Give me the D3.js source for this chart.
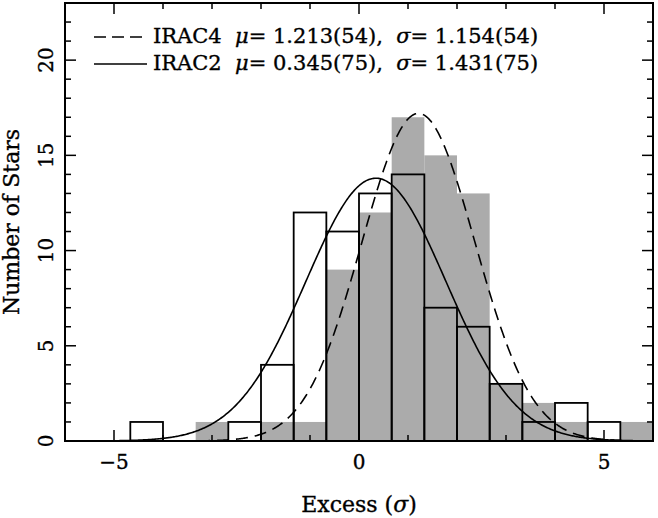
<!DOCTYPE html>
<html>
<head>
<meta charset="utf-8">
<script src="https://cdn.jsdelivr.net/npm/d3@7"></script>
<style>
  html, body { margin: 0; padding: 0; background: #fff; }
  svg { display: block; }
  text { font-family: "DejaVu Serif", serif; fill: #000; stroke: #000; stroke-width: 0.35px; }
</style>
</head>
<body>
<svg id="chart" width="658" height="518"></svg>
<script>
// ---- data ----
const binWidth = 0.6667;
const binLo = [-6, -5.333, -4.667, -4, -3.333, -2.667, -2, -1.333, -0.667, 0, 0.667, 1.333, 2, 2.667, 3.333, 4, 4.667, 5.333];
const irac2Counts = [0, 0, 1, 0, 0, 1, 4, 12, 11, 13, 14, 7, 6, 3, 1, 2, 1, 0];
const irac4Counts = [0, 0, 0, 0, 1, 0, 1, 1, 9, 12, 17, 15, 13, 3, 2, 1, 0, 1];
const irac4Fit = { mu: 1.213, sigma: 1.154, peak: 17.2 };
const irac2Fit = { mu: 0.345, sigma: 1.431, peak: 13.8 };
const xMajorTicks = [-5, 0, 5];
const yMajorTicks = [0, 5, 10, 15, 20];
const legendLabels = [
  { name: "IRAC4", mu: "1.213(54)", sigma: "1.154(54)", dash: "12,6" },
  { name: "IRAC2", mu: "0.345(75)", sigma: "1.431(75)", dash: null }
];

// ---- layout ----
const W = 658, H = 518;
const L = 65, R = 653, T = 3, B = 441;
const svg = d3.select("#chart");
const x = d3.scaleLinear().domain([-6, 6]).range([L, R]);
const y = d3.scaleLinear().domain([0, 23]).range([B, T]);

svg.append("defs").append("clipPath").attr("id", "clip")
  .append("rect").attr("x", L).attr("y", T).attr("width", R - L).attr("height", B - T);

const plot = svg.append("g").attr("clip-path", "url(#clip)");

// gray IRAC4 histogram
plot.selectAll("rect.g4").data(binLo.map((d, i) => ({ lo: d, n: irac4Counts[i] })).filter(d => d.n > 0))
  .enter().append("rect")
  .attr("x", d => x(d.lo)).attr("width", d => x(d.lo + binWidth) - x(d.lo))
  .attr("y", d => y(d.n)).attr("height", d => y(0) - y(d.n))
  .attr("fill", "#ababab").attr("stroke", "none");

// open IRAC2 histogram
plot.selectAll("rect.g2").data(binLo.map((d, i) => ({ lo: d, n: irac2Counts[i] })).filter(d => d.n > 0))
  .enter().append("rect")
  .attr("x", d => x(d.lo)).attr("width", d => x(d.lo + binWidth) - x(d.lo))
  .attr("y", d => y(d.n)).attr("height", d => y(0) - y(d.n))
  .attr("fill", "none").attr("stroke", "#000").attr("stroke-width", 1.8);

// gaussian fits
function gauss(p) {
  return d3.range(-6, 6.001, 0.02).map(v => [v, p.peak * Math.exp(-0.5 * Math.pow((v - p.mu) / p.sigma, 2))]);
}
const line = d3.line().x(d => x(d[0])).y(d => y(d[1]));
plot.append("path").datum(gauss(irac4Fit)).attr("d", line)
  .attr("fill", "none").attr("stroke", "#000").attr("stroke-width", 1.6).attr("stroke-dasharray", "12,7");
plot.append("path").datum(gauss(irac2Fit)).attr("d", line)
  .attr("fill", "none").attr("stroke", "#000").attr("stroke-width", 1.6);

// frame
svg.append("rect").attr("x", L).attr("y", T).attr("width", R - L).attr("height", B - T)
  .attr("fill", "none").attr("stroke", "#000").attr("stroke-width", 2);

// ticks (inward, all four sides)
const major = 11, minor = 6;
const tk = svg.append("g").attr("stroke", "#000").attr("stroke-width", 1.5);
x.ticks(12).forEach(v => {
  const len = xMajorTicks.includes(v) ? major : minor;
  tk.append("line").attr("x1", x(v)).attr("x2", x(v)).attr("y1", B).attr("y2", B - len);
  tk.append("line").attr("x1", x(v)).attr("x2", x(v)).attr("y1", T).attr("y2", T + len);
});
d3.range(0, 24, 1).forEach(v => {
  const len = yMajorTicks.includes(v) ? major : minor;
  tk.append("line").attr("x1", L).attr("x2", L + len).attr("y1", y(v)).attr("y2", y(v));
  tk.append("line").attr("x1", R).attr("x2", R - len).attr("y1", y(v)).attr("y2", y(v));
});

// tick labels
svg.selectAll("text.xt").data(xMajorTicks).enter().append("text")
  .attr("x", d => x(d)).attr("y", 469).attr("text-anchor", "middle")
  .attr("font-size", 20).text(d => d < 0 ? "\u2212" + Math.abs(d) : d);
svg.selectAll("text.yt").data(yMajorTicks).enter().append("text")
  .attr("transform", d => `translate(53,${y(d)}) rotate(-90)`).attr("text-anchor", "middle")
  .attr("font-size", 20).text(d => d);

// axis titles
const xt = svg.append("text").attr("x", (L + R) / 2).attr("y", 512).attr("text-anchor", "middle").attr("font-size", 22);
xt.append("tspan").text("Excess (");
xt.append("tspan").attr("font-style", "italic").text("\u03c3");
xt.append("tspan").text(")");
svg.append("text").attr("transform", `translate(19,${(T + B) / 2}) rotate(-90)`).attr("text-anchor", "middle")
  .attr("font-size", 22).text("Number of Stars");

// legend
legendLabels.forEach((d, i) => {
  const ly = 37 + i * 27;
  const ln = svg.append("line").attr("x1", 94).attr("x2", 147).attr("y1", ly).attr("y2", ly)
    .attr("stroke", "#000").attr("stroke-width", 1.6);
  if (d.dash) ln.attr("stroke-dasharray", d.dash);
  const t = svg.append("text").attr("x", 153).attr("y", ly + 6).attr("font-size", 21).attr("xml:space", "preserve");
  t.append("tspan").text(d.name + "  ");
  t.append("tspan").attr("font-style", "italic").text("\u03bc");
  t.append("tspan").text("= " + d.mu + ",  ");
  t.append("tspan").attr("font-style", "italic").text("\u03c3");
  t.append("tspan").text("= " + d.sigma);
});
</script>
</body>
</html>
